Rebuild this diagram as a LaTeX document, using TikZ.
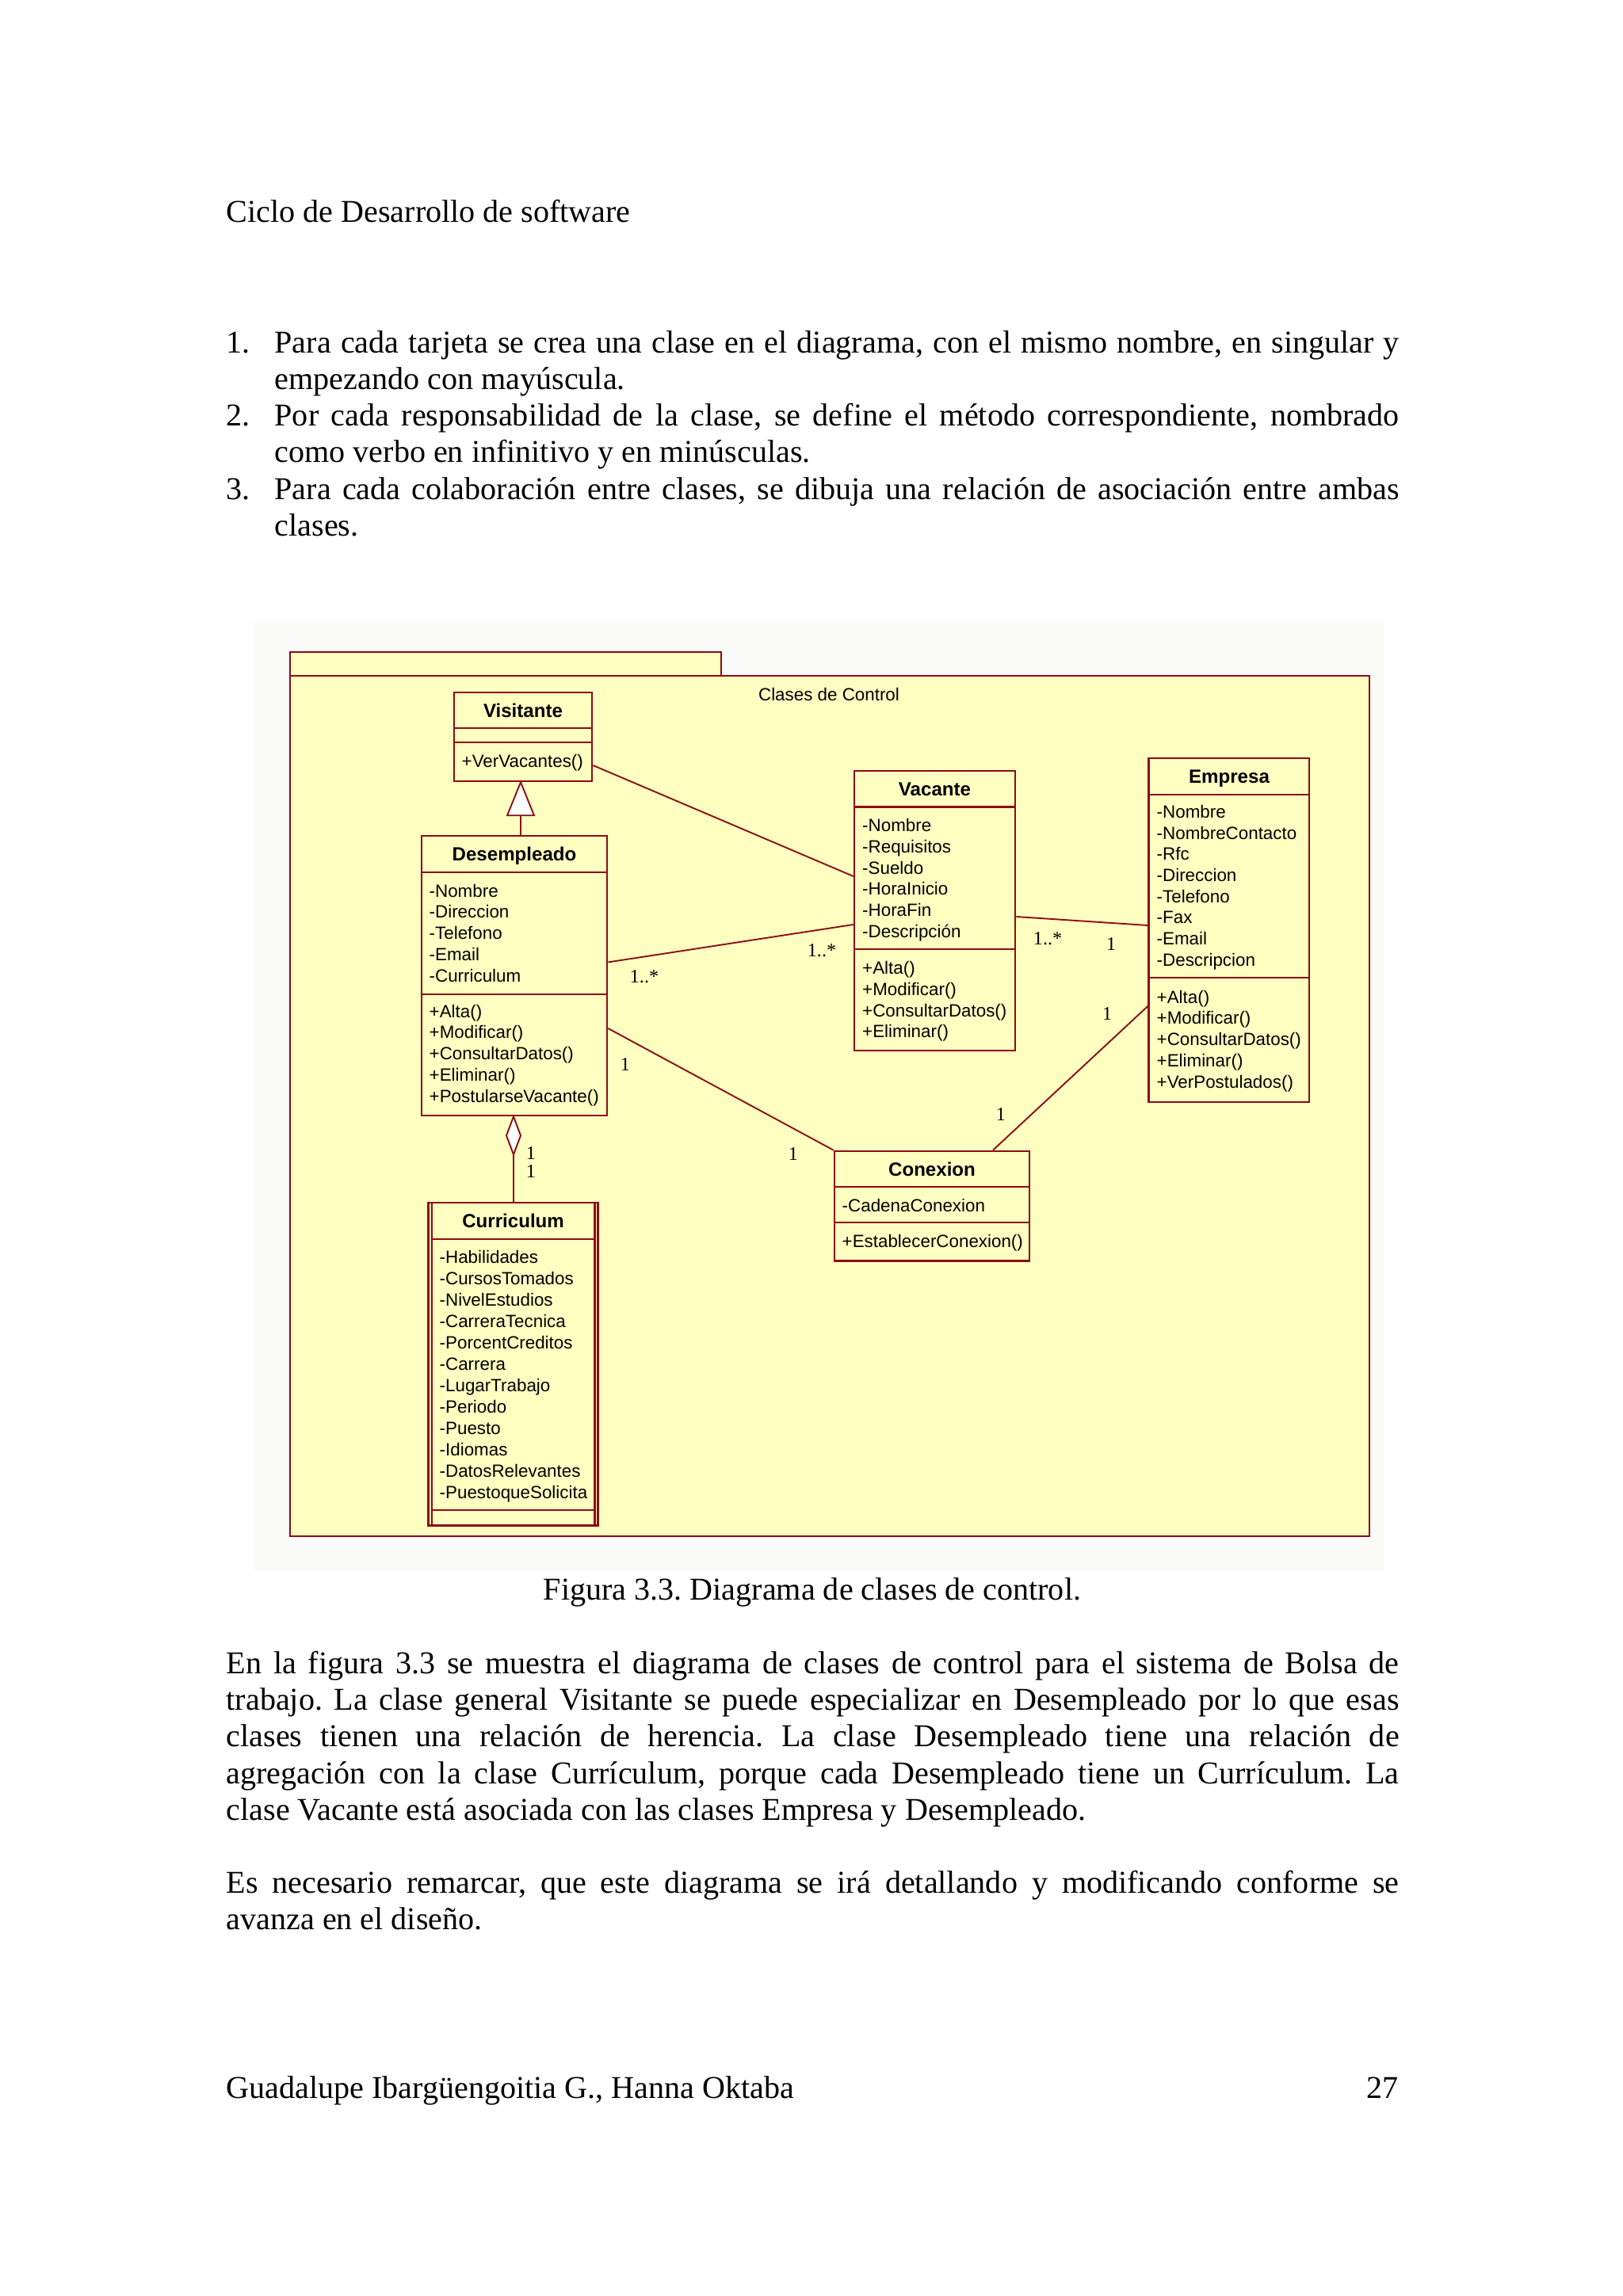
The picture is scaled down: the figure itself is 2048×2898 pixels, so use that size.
\documentclass[tikz,border=0pt]{standalone}
\usepackage{fontspec}
\setmainfont{Liberation Serif}
\newfontfamily\rosefont{Liberation Sans}
\usetikzlibrary{fit}
\definecolor{rosefill}{RGB}{255,255,194}
\definecolor{rosered}{RGB}{140,12,22}
\definecolor{figbg}{RGB}{251,251,250}
\newcommand\compsep[2]{\draw[border] (#1.west |- 0,#2) -- (#1.east |- 0,#2);}
\frenchspacing
\begin{document}
\begin{tikzpicture}[x=0.2905pt,y=-0.2905pt,
  border/.style={draw=rosered, line width=0.75pt},
  classbox/.style={border, fill=rosefill, inner sep=0pt, rectangle},
  attr/.style={font=\rosefont\fontsize{6.5}{7.8}\selectfont, inner sep=0pt, anchor=base west},
  cname/.style={font=\rosefont\bfseries\fontsize{7}{8.4}\selectfont, inner sep=0pt, anchor=base},
  mult/.style={font=\fontsize{7}{8.4}\selectfont, inner sep=0pt},
  assoc/.style={draw=rosered, line width=0.55pt},
  body/.style={font=\fontsize{11.65}{14}\selectfont\frenchspacing, inner sep=0pt, anchor=base west}]
\useasboundingbox (0,0) rectangle (2048,2898);
\fill[white] (0,0) rectangle (2048,2898);

% page text
\node[body] (head) at (285,281) {Ciclo de Desarrollo de software};
\node[body] (n1) at (285,446) {1.};
\node[body] (l1) at (346,446) {\makebox[412.2pt][s]{Para cada tarjeta se crea una clase en el diagrama, con el mismo nombre, en singular y}};
\node[body] (l2) at (346,492) {empezando con mayúscula.};
\node[body] (n2) at (285,538) {2.};
\node[body] (l3) at (346,538) {\makebox[412.2pt][s]{Por cada responsabilidad de la clase, se define el método correspondiente, nombrado}};
\node[body] (l4) at (346,584) {como verbo en infinitivo y en minúsculas.};
\node[body] (n3) at (285,631) {3.};
\node[body] (l5) at (346,631) {\makebox[412.2pt][s]{Para cada colaboración entre clases, se dibuja una relación de asociación entre ambas}};
\node[body] (l6) at (346,677) {clases.};

\node[body, anchor=base] (cap) at (1025,2019) {Figura 3.3. Diagrama de clases de control.};
\node[body] (p1) at (285,2112) {\makebox[429.9pt][s]{En la figura 3.3 se muestra el diagrama de clases de control para el sistema de Bolsa de}};
\node[body] (p2) at (285,2158) {\makebox[429.9pt][s]{trabajo. La clase general Visitante se puede especializar en Desempleado por lo que esas}};
\node[body] (p3) at (285,2204) {\makebox[429.9pt][s]{clases tienen una relación de herencia. La clase Desempleado tiene una relación de}};
\node[body] (p4) at (285,2251) {\makebox[429.9pt][s]{agregación con la clase Currículum, porque cada Desempleado tiene un Currículum. La}};
\node[body] (p5) at (285,2297) {clase Vacante está asociada con las clases Empresa y Desempleado.};
\node[body] (q1) at (285,2389) {\makebox[429.9pt][s]{Es necesario remarcar, que este diagrama se irá detallando y modificando conforme se}};
\node[body] (q2) at (285,2435) {avanza en el diseño.};
\node[body] (foot) at (285,2648) {Guadalupe Ibargüengoitia G., Hanna Oktaba};
\node[body, anchor=base east] (page) at (1765,2648) {27};

% figure
\fill[figbg] (320,783) rectangle (1747,1982);
\node[classbox, fit={(366,823) (910,853)}] (tab) {};
\node[classbox, fit={(366,853) (1728,1939)}] (pkg) {};
\node[attr, anchor=base] (pkgname) at (1046,885) {Clases de Control};

% Visitante
\node[classbox, fit={(573,874) (747,986)}] (vis) {};
\compsep{vis}{919}\compsep{vis}{937}
\node[cname] (vis-n) at (660,905) {Visitante};
\node[attr] (vis-m1) at (582,969) {+VerVacantes()};

% Desempleado
\node[classbox, fit={(532,1055) (766,1408)}] (des) {};
\compsep{des}{1101}\compsep{des}{1255}
\node[cname] (des-n) at (649,1086.5) {Desempleado};
\foreach \t [count=\i] in {-Nombre,-Direccion,-Telefono,-Email,-Curriculum}
  \node[attr] (des-a\i) at (541,{1132+26.8*(\i-1)}) {\t};
\foreach \t [count=\i] in {{+Alta()},{+Modificar()},{+ConsultarDatos()},{+Eliminar()},{+PostularseVacante()}}
  \node[attr] (des-m\i) at (541,{1284+26.9*(\i-1)}) {\t};

% Vacante
\node[classbox, fit={(1078,973) (1281,1326)}] (vac) {};
\compsep{vac}{1018.5}\compsep{vac}{1198}
\node[cname] (vac-n) at (1179.5,1004.5) {Vacante};
\foreach \t [count=\i] in {-Nombre,-Requisitos,-Sueldo,-HoraInicio,-HoraFin,-Descripción}
  \node[attr] (vac-a\i) at (1087.5,{1049.7+26.7*(\i-1)}) {\t};
\foreach \t [count=\i] in {{+Alta()},{+Modificar()},{+ConsultarDatos()},{+Eliminar()}}
  \node[attr] (vac-m\i) at (1087.5,{1229.7+26.7*(\i-1)}) {\t};

% Empresa
\node[classbox, fit={(1449.6,957) (1652,1391)}] (emp) {};
\compsep{emp}{1003}\compsep{emp}{1234}
\node[cname] (emp-n) at (1551,988.5) {Empresa};
\foreach \t [count=\i] in {-Nombre,-NombreContacto,-Rfc,-Direccion,-Telefono,-Fax,-Email,-Descripcion}
  \node[attr] (emp-a\i) at (1459,{1032.3+26.7*(\i-1)}) {\t};
\foreach \t [count=\i] in {{+Alta()},{+Modificar()},{+ConsultarDatos()},{+Eliminar()},{+VerPostulados()}}
  \node[attr] (emp-m\i) at (1459,{1266+26.75*(\i-1)}) {\t};

% Conexion
\node[classbox, fit={(1053,1453) (1299,1591.5)}] (con) {};
\compsep{con}{1498}\compsep{con}{1543}
\node[cname] (con-n) at (1176,1484) {Conexion};
\node[attr] (con-a1) at (1062,1529.5) {-CadenaConexion};
\node[attr] (con-m1) at (1062,1574) {+EstablecerConexion()};

% Curriculum
\node[classbox, fit={(540.6,1518) (754.7,1925.5)}] (cur) {};
\draw[border] (545,1518) -- (545,1925.5);
\draw[border] (750.3,1518) -- (750.3,1925.5);
\draw[border] (545,1564) -- (750.3,1564);
\draw[border] (545,1906) -- (750.3,1906);
\node[cname] (cur-n) at (647.6,1549.5) {Curriculum};
\foreach \t [count=\i] in {-Habilidades,-CursosTomados,-NivelEstudios,-CarreraTecnica,-PorcentCreditos,-Carrera,-LugarTrabajo,-Periodo,-Puesto,-Idiomas,-DatosRelevantes,-PuestoqueSolicita}
  \node[attr] (cur-a\i) at (554,{1594+27*(\i-1)}) {\t};

% associations
\draw[assoc] (vis.east |- 0,966) -- (vac.west |- 0,1106);
\draw[assoc] (des.east |- 0,1214.5) -- (vac.west |- 0,1167);
\draw[assoc] (des.east |- 0,1298) -- (con.north west);
\draw[assoc] (vac.east |- 0,1157) -- (emp.west |- 0,1168);
\draw[assoc] (emp.west |- 0,1270) -- (con.north -| 1253,0);

% generalization
\coordinate (gx) at (657,0);
\draw[assoc] (des.north -| gx) -- (vis.south -| gx);
\draw[assoc, fill=white] (vis.south -| gx) -- ++(-17,42) -- ++(34,0) -- cycle;

% aggregation
\coordinate (ax) at (648,0);
\draw[assoc] (des.south -| ax) -- (cur.north -| ax);
\draw[assoc, fill=white] (des.south -| ax) -- ++(9,24) -- ++(-9,24) -- ++(-9,-24) -- cycle;

% multiplicities
\node[mult] (m1) at (813,1233) {1..*};
\node[mult] (m2) at (1037,1200) {1..*};
\node[mult] (m3) at (789,1344) {1};
\node[mult] (m4) at (1001,1457) {1};
\node[mult] (m5) at (1322,1185) {1..*};
\node[mult] (m6) at (1402,1192) {1};
\node[mult] (m7) at (1397,1280) {1};
\node[mult] (m8) at (1263,1407) {1};
\node[mult] (m9) at (670,1456) {1};
\node[mult] (m10) at (670,1479) {1};
\end{tikzpicture}
\end{document}
